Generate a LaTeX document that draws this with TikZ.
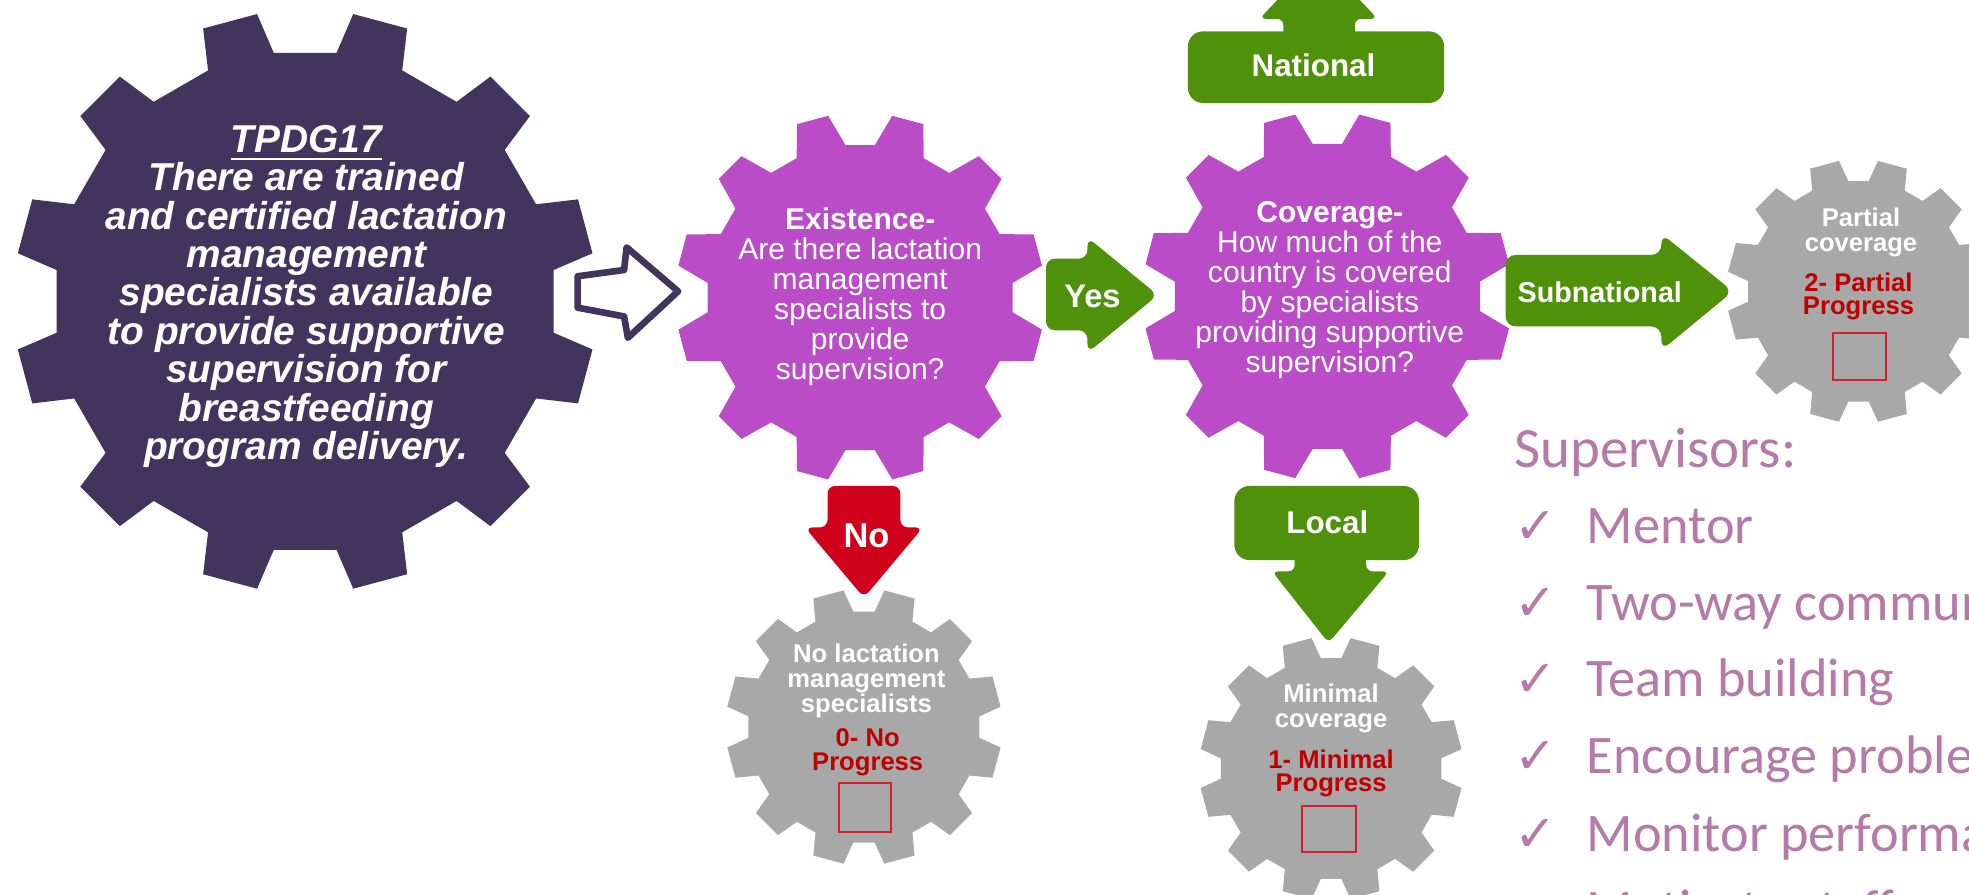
\documentclass[tikz,border=0pt]{standalone}
\usepackage{fontspec}
\setmainfont{Liberation Sans}
\newfontfamily\calfont{Carlito}
\newfontfamily\chkfont{DejaVu Sans}
\usetikzlibrary{calc}
\definecolor{gdark}{RGB}{65,53,94}
\definecolor{gmag}{RGB}{186,76,200}
\definecolor{ggrey}{RGB}{168,168,168}
\definecolor{agreen}{RGB}{80,145,12}
\definecolor{ared}{RGB}{208,2,27}
\definecolor{pred}{RGB}{192,0,0}
\definecolor{sqred}{RGB}{214,30,45}
\definecolor{listc}{RGB}{181,122,168}
\newcommand\fs[2]{\fontsize{#1}{#2}\selectfont}
% cx cy R rootratio tiphalf basehalf colour
\newcommand\cog[7]{\fill[#7,shift={(#1,#2)}] ({15-#6}:{#3*#4}) \foreach \a in {15,45,...,345}{ -- ({\a-#6}:{#3*#4}) -- ({\a-#5}:{#3}) -- ({\a+#5}:{#3}) -- ({\a+#6}:{#3*#4}) } -- cycle;}
\tikzset{
  txt/.style={align=center, inner sep=0pt, text=white},
  gtxt/.style={align=center, inner sep=0pt, text=white, font=\fs{5.8}{5.7}\bfseries},
  rtxt/.style={align=center, inner sep=0pt, text=pred, font=\fs{5.8}{5.3}\bfseries},
  checkbox/.style={draw=sqred, line width=0.45pt, inner sep=0pt},
  atxt/.style={inner sep=0pt, text=white},
  listitem/.style={anchor=base west, inner sep=0pt, text=listc, font=\calfont\fs{12.3}{12.3}},
  chk/.style={anchor=base west, inner sep=0pt, text=listc, font=\chkfont\fs{11.5}{11.5}},
}
\begin{document}
\begin{tikzpicture}[x=0.01cm,y=-0.01cm]
\useasboundingbox (0,0) rectangle (1568,712);
\clip (0,0) rectangle (1568,712);
\fill[white] (0,0) rectangle (1568,712);

% gears
\cog{243}{240}{232}{0.86}{5.5}{7.8}{gdark}
\cog{685}{237}{147}{0.83}{5}{9.5}{gmag}
\cog{1057}{236}{147}{0.83}{5}{9.5}{gmag}
\cog{688}{579}{110}{0.84}{6.5}{9.7}{ggrey}
\cog{1060}{612}{105}{0.84}{6.5}{9.7}{ggrey}
\cog{1480}{232}{105}{0.84}{6.5}{9.7}{ggrey}

% goal text
\node[txt, font=\fs{8.8}{8.7}\bfseries\itshape] (goal) at (244,236)
  {\underline{TPDG17}\\There are trained\\and certified lactation\\management\\specialists available\\to provide supportive\\supervision for\\breastfeeding\\program delivery.};

% open arrow
\draw[gdark, line width=1.5pt, fill=white, line join=round]
  (460,220) -- (497,215) -- (499,197) -- (540,232) -- (500,269) -- (497,252) -- (460,245) -- cycle;

% existence / coverage
\node[txt, font=\fs{6.8}{6.8}] (exist) at (685,236)
  {\textbf{Existence-}\\Are there lactation\\management\\specialists to\\provide\\supervision?};
\node[txt, font=\fs{6.8}{6.8}] (cover) at (1059,231)
  {\textbf{Coverage-}\\How much of the\\country is covered\\by specialists\\providing supportive\\supervision?};

% Yes arrow
\fill[agreen, rounded corners=0.7mm] (833,206) -- (866,206) -- (866,189) -- (922,235) -- (866,281) -- (866,263) -- (833,263) -- cycle;
\node[atxt, font=\fs{7.4}{7.4}\bfseries] (yes) at (870,236) {Yes};

% Subnational arrow
\fill[agreen, rounded corners=0.8mm] (1199,203) -- (1323,203) -- (1323,186) -- (1380,232) -- (1323,279) -- (1323,260) -- (1199,260) -- cycle;
\node[atxt, font=\fs{6.5}{6.5}\bfseries] (subnat) at (1274,233) {Subnational};

% National arrow
\fill[agreen, rounded corners=1.2mm] (946,25) -- (1150,25) -- (1150,82) -- (946,82) -- cycle;
\fill[agreen, rounded corners=0.5mm] (1022,30) -- (1022,15) -- (1003,15) -- (1050,-35) -- (1097,15) -- (1079,15) -- (1079,30) -- cycle;
\node[atxt, font=\fs{7.1}{7.1}\bfseries] (national) at (1046,52) {National};

% Local arrow
\fill[agreen, rounded corners=1.2mm] (983,387) -- (1130,387) -- (1130,446) -- (983,446) -- cycle;
\fill[agreen, rounded corners=0.5mm] (1031,440) -- (1031,455) -- (1013,455) -- (1058,512) -- (1106,455) -- (1088,455) -- (1088,440) -- cycle;
\node[atxt, font=\fs{7.1}{7.1}\bfseries] (local) at (1057,416) {Local};

% No arrow
\fill[ared, rounded corners=0.6mm] (659,387) -- (717,387) -- (717,420) -- (735,420) -- (688,476) -- (641,420) -- (659,420) -- cycle;
\node[atxt, font=\fs{7.8}{7.8}\bfseries] (no) at (690,427) {No};

% grey gear texts
\node[gtxt] (nolt) at (690,542) {No lactation\\management\\specialists};
\node[rtxt] (nop) at (691,599) {0- No\\Progress};
\node[checkbox, minimum width=4.1mm, minimum height=3.9mm] (nosq) at (689,643) {};

\node[gtxt] (mint) at (1060,564) {Minimal\\coverage};
\node[rtxt] (minp) at (1060,616) {1- Minimal\\Progress};
\node[checkbox, minimum width=4.3mm, minimum height=3.7mm] (minsq) at (1058,660) {};

\node[gtxt] (part) at (1482,185) {Partial\\coverage};
\node[rtxt] (parp) at (1480,236) {2- Partial\\Progress};
\node[checkbox, minimum width=4.2mm, minimum height=3.7mm] (parsq) at (1481,284) {};

% supervisors list
\node[listitem, font=\calfont\fs{12.9}{12.9}] (suph) at (1205,372) {Supervisors:};
\foreach \y/\t [count=\i] in {433/Mentor, 494/Two-way communication, 555/Team building, 616/Encourage problem solving, 678/Monitor performance, 739/Motivate staff}{
  \node[chk] (c\i) at (1205,\y) {✓};
  \node[listitem] (l\i) at (1263,\y) {\t};
}
\end{tikzpicture}
\end{document}
